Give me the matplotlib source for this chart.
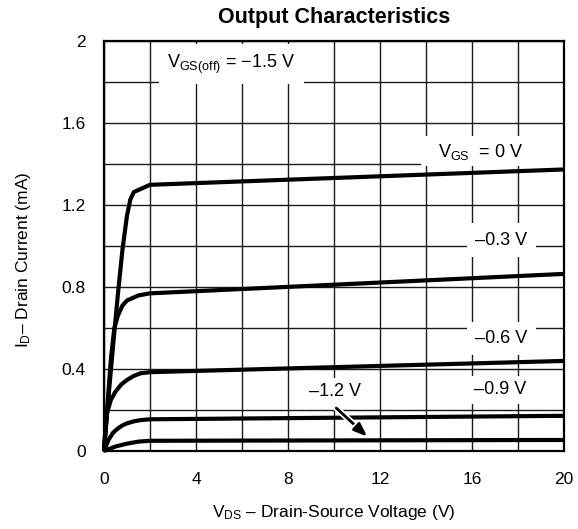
import matplotlib
matplotlib.use("Agg")
import matplotlib.pyplot as plt
import matplotlib.patheffects as pe

plt.rcParams['font.family'] = ['Liberation Sans', 'DejaVu Sans']
plt.rcParams['mathtext.fontset'] = 'custom'
plt.rcParams['mathtext.rm'] = 'Liberation Sans'

# drain-source voltage (V) / drain current (mA)
vds_0 = [0, 0.2, 0.4, 0.6, 0.8, 1.0, 1.15, 1.3, 2, 20]
id_0 = [0, 0.27, 0.52, 0.76, 0.98, 1.15, 1.23, 1.265, 1.30, 1.375]

vds_03 = [0, 0.15, 0.3, 0.45, 0.6, 0.8, 1.0, 1.5, 2, 20]
id_03 = [0, 0.22, 0.45, 0.6, 0.66, 0.71, 0.735, 0.76, 0.77, 0.865]

vds_06 = [0, 0.05, 0.12, 0.3, 0.5, 0.75, 1.0, 1.3, 1.6, 2, 20]
id_06 = [0, 0.09, 0.18, 0.25, 0.29, 0.325, 0.347, 0.367, 0.38, 0.385, 0.44]

vds_09 = [0, 0.2, 0.4, 0.6, 0.8, 1.0, 1.3, 1.6, 2, 20]
id_09 = [0, 0.055, 0.09, 0.11, 0.125, 0.135, 0.145, 0.151, 0.155, 0.172]

vds_12 = [0, 0.5, 1.0, 1.5, 2, 20]
id_12 = [0, 0.022, 0.036, 0.046, 0.05, 0.054]

curves = [(vds_0, id_0), (vds_03, id_03), (vds_06, id_06), (vds_09, id_09), (vds_12, id_12)]

fig = plt.figure(figsize=(5.78, 5.29), dpi=100)
ax = fig.add_axes([0.1799, 0.1474, 0.7959, 0.7742])

for v, i in curves:
    ax.plot(v, i, color='black', lw=3.0, solid_capstyle='butt', zorder=3, clip_on=False)

ax.set_xlim(0, 20)
ax.set_ylim(0, 2)
ax.set_xticks([0, 4, 8, 12, 16, 20])
ax.set_xticks(range(0, 21, 2), minor=True)
ax.set_yticks([0, 0.4, 0.8, 1.2, 1.6, 2])
ax.set_yticklabels(['0', '0.4', '0.8', '1.2', '1.6', '2'])
ax.set_yticks([k * 0.2 for k in range(11)], minor=True)
ax.tick_params(which='both', length=0, labelsize=12.5)
ax.tick_params(axis='x', pad=15)
ax.tick_params(axis='y', pad=13)
ax.grid(which='both', color='#1a1a1a', lw=1.0, zorder=1)
for s in ax.spines.values():
    s.set_linewidth(1.6)
    s.set_zorder(4)

# white patch behind the VGS = 0 label, reaching the right edge
ax.axvspan(13.8, 20, ymin=0.695, ymax=0.77, facecolor='white', edgecolor='none', zorder=2)

fs = 13
ax.text(2.75, 1.89, r'$\mathregular{V_{GS(off)}}$ = $-$1.5 V', fontsize=fs,
        va='center', ha='left', zorder=5,
        bbox=dict(facecolor='white', edgecolor='none', boxstyle='square,pad=0.45'))
ax.text(14.5, 1.46, r'$\mathregular{V_{GS}}$  = 0 V', fontsize=fs, va='center', ha='left',
        zorder=5)
ax.text(16.15, 1.03, '\u20130.3 V', fontsize=fs, va='center', ha='left', zorder=5,
        bbox=dict(facecolor='white', edgecolor='none', boxstyle='square,pad=0.45'))
ax.text(16.15, 0.55, '\u20130.6 V', fontsize=fs, va='center', ha='left', zorder=5,
        bbox=dict(facecolor='white', edgecolor='none', boxstyle='square,pad=0.45'))
ax.text(16.1, 0.30, '\u20130.9 V', fontsize=fs, va='center', ha='left', zorder=5,
        bbox=dict(facecolor='white', edgecolor='none', boxstyle='square,pad=0.3'))
ax.text(8.9, 0.29, '\u20131.2 V', fontsize=fs, va='center', ha='left', zorder=5,
        bbox=dict(facecolor='white', edgecolor='none', boxstyle='square,pad=0.3'))

ann = ax.annotate('', xy=(11.45, 0.07), xytext=(10.1, 0.21), zorder=6,
                  arrowprops=dict(arrowstyle='-|>,head_length=0.8,head_width=0.3',
                                  color='black', lw=2.0, shrinkA=0, shrinkB=0))
ann.arrow_patch.set_path_effects([pe.Stroke(linewidth=4.5, foreground='white'), pe.Normal()])

fig.text(334 / 578, 1 - 18 / 529, 'Output Characteristics', ha='center', va='center',
         fontsize=15.5, fontweight='bold')
fig.text(334 / 578, 1 - 512 / 529, r'$\mathregular{V_{DS}}$' + ' \u2013 Drain-Source Voltage (V)',
         ha='center', va='center', fontsize=12.5)
fig.text(24 / 578, 1 - 260 / 529, r'$\mathregular{I_D}$' + '\u2013 Drain Current (mA)',
         ha='center', va='center', rotation=90, fontsize=12.5)

fig.savefig('out.png', dpi=100)
